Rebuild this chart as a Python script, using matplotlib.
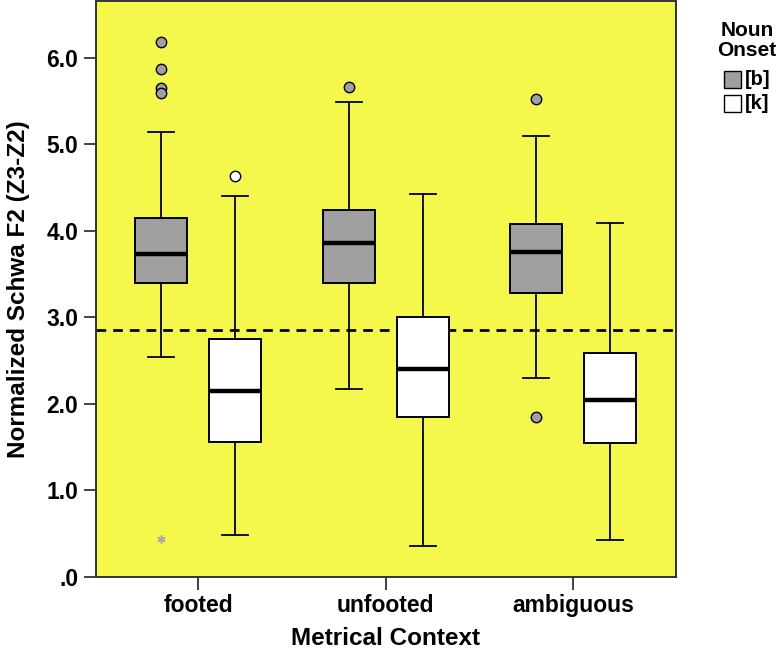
import matplotlib.pyplot as plt
from matplotlib.patches import Rectangle

plt.rcParams['font.family'] = ['Liberation Sans', 'DejaVu Sans']
plt.rcParams['font.weight'] = 'bold'

# data
categories = ['footed', 'unfooted', 'ambiguous']
groups = ['[b]', '[k]']

b_whislo = [2.54, 2.17, 2.30]
b_q1 = [3.40, 3.40, 3.28]
b_med = [3.73, 3.86, 3.76]
b_q3 = [4.15, 4.24, 4.08]
b_whishi = [5.14, 5.49, 5.10]
b_outliers = [[6.19, 5.87, 5.65, 5.60], [5.67], [5.53, 1.85]]
b_extremes = [[0.44], [], []]

k_whislo = [0.48, 0.36, 0.42]
k_q1 = [1.56, 1.85, 1.55]
k_med = [2.15, 2.40, 2.05]
k_q3 = [2.75, 3.00, 2.59]
k_whishi = [4.40, 4.43, 4.09]
k_outliers = [[4.63], [], []]

ref_line = 2.855

yticks = [0, 1, 2, 3, 4, 5, 6]
ytick_labels = ['.0', '1.0', '2.0', '3.0', '4.0', '5.0', '6.0']

bg = '#F4F84A'
gray = '#A0A0A0'
W, H = 780, 653

fig = plt.figure(figsize=(W / 100, H / 100), dpi=100)
ax = fig.add_axes([0.1227, 0.1168, 0.7436, 0.8817])
ax.set_facecolor(bg)

offset = 0.197
width = 0.277


def make_stats(lo, q1, med, q3, hi, fl):
    return [dict(whislo=lo[i], q1=q1[i], med=med[i], q3=q3[i], whishi=hi[i],
                 fliers=fl[i]) for i in range(len(lo))]


specs = [
    (make_stats(b_whislo, b_q1, b_med, b_q3, b_whishi, b_outliers), -offset, gray),
    (make_stats(k_whislo, k_q1, k_med, k_q3, k_whishi, k_outliers), offset, 'white'),
]
for stats, off, fc in specs:
    pos = [i + off for i in range(len(categories))]
    ax.bxp(stats, positions=pos, widths=width, patch_artist=True,
           showfliers=True, capwidths=width / 2,
           boxprops=dict(facecolor=fc, edgecolor='black', linewidth=1.4),
           medianprops=dict(color='black', linewidth=3.2),
           whiskerprops=dict(color='black', linewidth=1.3),
           capprops=dict(color='black', linewidth=1.3),
           flierprops=dict(marker='o', markerfacecolor=fc, markeredgecolor='black',
                           markersize=7.5, markeredgewidth=1.0))

for i, ex in enumerate(b_extremes):
    if ex:
        ax.plot([i - offset] * len(ex), ex, linestyle='none', marker=(6, 2, 0),
                color='#A8A8A8', markersize=6, markeredgewidth=1.1)

ax.axhline(ref_line, color='black', linestyle=(0, (3.5, 2.5)), linewidth=2, zorder=1)

ax.set_xlim(-0.547, 2.547)
ax.set_ylim(0, 6.66)
ax.set_xticks(range(len(categories)))
ax.set_xticklabels(categories, fontsize=16.5, fontweight='bold')
ax.set_yticks(yticks)
ax.set_yticklabels(ytick_labels, fontsize=16.5, fontweight='bold')
ax.tick_params(axis='both', length=9, width=1.2, color='#222222', pad=3.5)

for s in ax.spines.values():
    s.set_color('#333333')
    s.set_linewidth(1.4)

ax.set_xlabel('Metrical Context', fontsize=17.5, fontweight='bold', labelpad=7)
ax.set_ylabel('Normalized Schwa F2 (Z3-Z2)', fontsize=17.5, fontweight='bold')
ax.yaxis.set_label_coords(-0.114, 0.5)

# legend drawn by hand, as in the reference
fig.text(747 / W, 1 - 21 / H, 'Noun\nOnset', ha='center', va='top',
         fontsize=15, fontweight='bold', linespacing=1.05)
legend_fc = [gray, 'white']
for j, lab in enumerate(groups):
    y0 = 71.5 + j * 23.5
    fig.add_artist(Rectangle((724 / W, 1 - (y0 + 16.8) / H), 17.4 / W, 16.8 / H,
                             transform=fig.transFigure, facecolor=legend_fc[j],
                             edgecolor='black', linewidth=1.0))
    fig.text(745 / W, 1 - (y0 + 8.4) / H, lab, ha='left', va='center',
             fontsize=14.5, fontweight='bold')

fig.savefig('out.png', dpi=100)
